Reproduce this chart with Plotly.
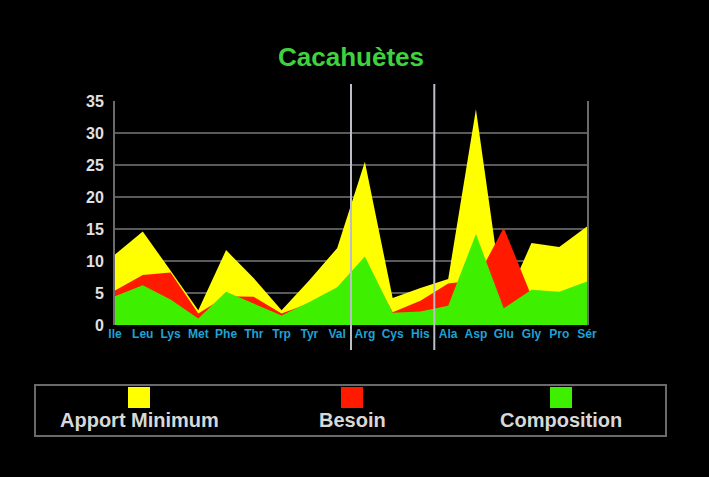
import plotly.graph_objects as go

# ---- data ----
categories = ["Ile", "Leu", "Lys", "Met", "Phe", "Thr", "Trp", "Tyr", "Val",
              "Arg", "Cys", "His", "Ala", "Asp", "Glu", "Gly", "Pro", "Sér"]
apport_minimum = [11.0, 14.6, 8.5, 2.3, 11.7, 7.3, 2.3, 7.0, 12.0,
                  25.5, 4.2, 5.8, 7.2, 33.7, 3.0, 12.8, 12.2, 15.4]
besoin = [5.4, 7.8, 8.2, 1.8, 4.5, 4.4, 1.8, 3.4, 5.5,
          10.0, 2.0, 3.8, 6.5, 7.0, 15.2, 4.5, 4.0, 5.0]
composition = [4.5, 6.2, 4.0, 1.0, 5.2, 3.4, 1.5, 3.6, 5.9,
               10.7, 1.9, 2.1, 3.0, 14.2, 2.6, 5.5, 5.2, 6.8]
series_names = ["Apport Minimum", "Besoin", "Composition"]
series_colors = ["#ffff00", "#ff1a00", "#3ef000"]
separators = [8.5, 11.5]
y_ticks = [0, 5, 10, 15, 20, 25, 30, 35]

# ---- geometry (pixels) ----
W, H = 709, 477
L, R, T, B = 115, 587, 101, 325


def px(x):
    return (x - L) / (R - L)


def py(y):
    return (B - y) / (B - T)


fig = go.Figure()
for name, vals, col in zip(series_names, [apport_minimum, besoin, composition], series_colors):
    fig.add_trace(go.Scatter(
        x=categories, y=vals, name=name, mode="lines",
        line=dict(width=0, color=col), fill="tozeroy", fillcolor=col,
        showlegend=False))

shapes = []
for s in separators:
    shapes.append(dict(type="line", xref="x", yref="paper", x0=s, x1=s,
                       y0=py(350), y1=py(84), line=dict(color="#bdbdc8", width=2),
                       layer="above"))
# legend box
shapes.append(dict(type="rect", xref="paper", yref="paper",
                   x0=px(35), x1=px(666), y0=py(436), y1=py(385),
                   line=dict(color="#6a6a6a", width=2), fillcolor="rgba(0,0,0,0)"))
legend_centers = [139, 352, 561]
annotations = []
for name, col, cx in zip(series_names, series_colors, legend_centers):
    shapes.append(dict(type="rect", xref="paper", yref="paper",
                       x0=px(cx - 11), x1=px(cx + 11), y0=py(408), y1=py(387),
                       line=dict(width=0), fillcolor=col))
    annotations.append(dict(xref="paper", yref="paper", x=px(cx), y=py(420),
                            text=name, showarrow=False, xanchor="center", yanchor="middle",
                            font=dict(family="Liberation Sans, Arial", size=20,
                                      color="#d8d8d8", weight="bold")))

fig.update_layout(
    width=W, height=H,
    margin=dict(l=L, r=W - R, t=T, b=H - B, pad=0),
    paper_bgcolor="black", plot_bgcolor="black",
    title=dict(text="Cacahuètes", x=px(351), xref="paper", xanchor="center",
               y=1 - 57 / H, yref="container", yanchor="middle",
               font=dict(family="Liberation Sans, Arial", size=26, color="#3ed23e",
                         weight="bold")),
    xaxis=dict(type="category", range=[0, len(categories) - 1], showgrid=False,
               zeroline=False, showline=False, ticks="",
               tickfont=dict(family="Liberation Sans, Arial", size=12, color="#1fa2d6",
                             weight="bold")),
    yaxis=dict(range=[0, 35], tickvals=y_ticks, showgrid=True, gridcolor="#5a5a5a",
               gridwidth=2, zeroline=False, showline=True, linecolor="#6a6a6a",
               linewidth=2, mirror=True, ticks="", ticklabelstandoff=6,
               tickfont=dict(family="Liberation Sans, Arial", size=16, color="#e0e0e0",
                             weight="bold")),
    shapes=shapes, annotations=annotations,
    hovermode=False,
)

fig.write_html("out.html", config={"displayModeBar": False},
               post_script="document.body.style.margin='0';document.body.style.background='black';")
